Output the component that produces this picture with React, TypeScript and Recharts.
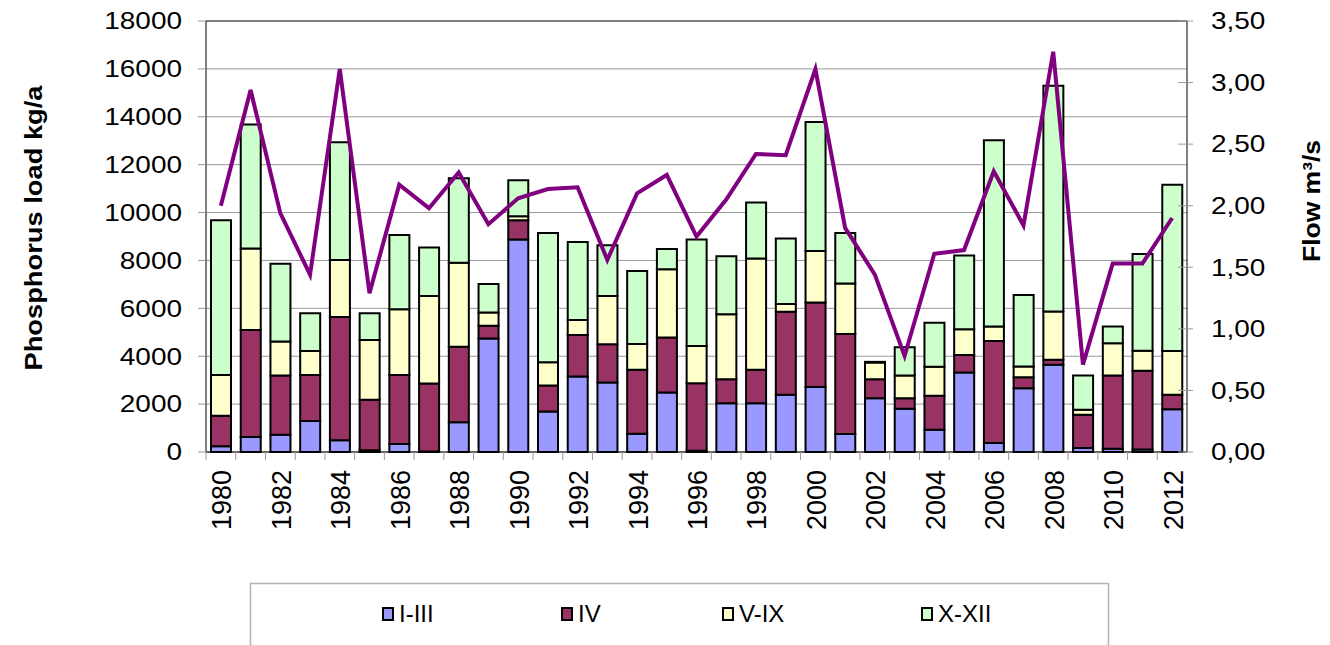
import React from 'react';
import { ComposedChart, Bar, Line, XAxis, YAxis, CartesianGrid, ReferenceLine } from 'recharts';

const years = [1980, 1981, 1982, 1983, 1984, 1985, 1986, 1987, 1988, 1989, 1990, 1991, 1992, 1993, 1994, 1995, 1996, 1997, 1998, 1999, 2000, 2001, 2002, 2003, 2004, 2005, 2006, 2007, 2008, 2009, 2010, 2011, 2012];
const q1 = [240, 625, 720, 1290, 490, 70, 330, 20, 1240, 4740, 8875, 1690, 3150, 2900, 765, 2490, 55, 2040, 2040, 2390, 2710, 750, 2250, 1805, 930, 3320, 375, 2665, 3640, 165, 140, 100, 1790];
const q4 = [1270, 4470, 2470, 1930, 5150, 2110, 2890, 2840, 3160, 530, 806, 1085, 1735, 1600, 2665, 2290, 2820, 1000, 1390, 3470, 3530, 4180, 790, 445, 1415, 735, 4265, 460, 210, 1390, 3055, 3290, 600];
const q5 = [1710, 3400, 1420, 1000, 2375, 2500, 2740, 3650, 3500, 555, 166, 970, 625, 2010, 1085, 2850, 1555, 2710, 4650, 320, 2150, 2110, 695, 945, 1220, 1070, 600, 445, 2015, 210, 1350, 835, 1830];
const q10 = [6460, 5180, 3250, 1570, 4920, 1110, 3100, 2030, 3530, 1195, 1500, 5400, 3265, 2125, 3040, 850, 4445, 2430, 2335, 2735, 5390, 2110, 30, 1180, 1835, 3085, 7780, 2985, 9430, 1430, 695, 4040, 6945];
const flow = [2.0, 2.94, 1.94, 1.44, 3.11, 1.29, 2.17, 1.98, 2.27, 1.85, 2.06, 2.135, 2.15, 1.56, 2.1, 2.25, 1.75, 2.05, 2.42, 2.41, 3.11, 1.82, 1.44, 0.78, 1.61, 1.64, 2.28, 1.84, 3.25, 0.71, 1.53, 1.53, 1.9];

const seriesNames = ['I-III', 'IV', 'V-IX', 'X-XII'];
const seriesKeys = ['q1', 'q4', 'q5', 'q10'];
const seriesColors = ['#9999FF', '#993366', '#FFFFCC', '#CCFFCC'];
const leftTicks = [0, 2000, 4000, 6000, 8000, 10000, 12000, 14000, 16000, 18000];
const rightTicks = [0, 0.5, 1, 1.5, 2, 2.5, 3, 3.5];

const rows = years.map((y, i) => ({ year: y, q1: q1[i], q4: q4[i], q5: q5[i], q10: q10[i], flow: flow[i] }));

const FONT = '"Liberation Sans", Arial, sans-serif';
const PLOT_LEFT = 206;
const PLOT_RIGHT = 1187;
const BAND = (PLOT_RIGHT - PLOT_LEFT) / years.length;

const emWidth = (s: string) => {
  let w = 0;
  for (const c of s) w += c === ',' ? 0.278 : 0.556;
  return w;
};

const LeftTick = (props: any) => {
  const { x, y, payload } = props;
  const label = String(payload.value);
  const fs = 23.3;
  return (
    <g>
      <line x1={x - 8} x2={x} y1={y} y2={y} stroke="#999" />
      <text x={x - 24} y={y + 8.3} textAnchor="end" fontSize={fs} fontFamily={FONT} fill="#000"
        textLength={emWidth(label) * fs * 1.2} lengthAdjust="spacingAndGlyphs">{label}</text>
    </g>
  );
};

const RightTick = (props: any) => {
  const { x, y, payload } = props;
  const label = Number(payload.value).toFixed(2).replace('.', ',');
  const fs = 23.3;
  return (
    <g>
      <line x1={x - 9} x2={x + 6} y1={y} y2={y} stroke="#999" />
      <text x={x + 24} y={y + 8.3} textAnchor="start" fontSize={fs} fontFamily={FONT} fill="#000"
        textLength={emWidth(label) * fs * 1.2} lengthAdjust="spacingAndGlyphs">{label}</text>
    </g>
  );
};

const XTick = (props: any) => {
  const { x, y, payload } = props;
  const yr = Number(payload.value);
  const bx = x - BAND / 2;
  const px = x + 10.5;
  const py = y + 18;
  return (
    <g>
      <line x1={bx} x2={bx} y1={y} y2={y + 8} stroke="#999" />
      {yr % 2 === 0 && (
        <text x={px} y={py} transform={`rotate(-90 ${px} ${py})`} textAnchor="end" fontSize={27} fontFamily={FONT} fill="#000">
          {String(yr)}
        </text>
      )}
    </g>
  );
};

const LeftTitle = () => (
  <text x={42} y={228} transform="rotate(-90 42 228)" textAnchor="middle" fontSize={24} fontWeight="bold" fontFamily={FONT} fill="#000"
    textLength={285} lengthAdjust="spacingAndGlyphs">Phosphorus load kg/a</text>
);

const RightTitle = () => (
  <text x={1320} y={201} transform="rotate(-90 1320 201)" textAnchor="middle" fontSize={24} fontWeight="bold" fontFamily={FONT} fill="#000"
    textLength={122} lengthAdjust="spacingAndGlyphs">Flow m³/s</text>
);

const legendSquareX = [382, 561, 722, 921];

export default function App() {
  return (
    <div style={{ position: 'absolute', left: 0, top: 0, width: 1330, height: 645, overflow: 'hidden', background: '#fff' }}>
      <ComposedChart width={1330} height={645} data={rows} margin={{ top: 21, right: 0, bottom: 73, left: 0 }} barSize={20}>
        <CartesianGrid vertical={false} stroke="#999" />
        <XAxis dataKey="year" interval={0} tick={<XTick />} tickLine={false} tickSize={0} tickMargin={0} axisLine={{ stroke: '#000' }} height={120} />
        <YAxis domain={[0, 18000]} ticks={leftTicks} width={206} tick={<LeftTick />} tickLine={false} tickSize={0} tickMargin={0}
          axisLine={{ stroke: '#000' }} interval={0} label={<LeftTitle />} />
        <YAxis yAxisId="right" orientation="right" domain={[0, 3.5]} ticks={rightTicks} width={143} tick={<RightTick />} tickLine={false}
          tickSize={0} tickMargin={0} axisLine={{ stroke: '#000' }} interval={0} label={<RightTitle />} />
        <ReferenceLine y={18000} stroke="#808080" strokeWidth={2} />
        {seriesKeys.map((k, i) => (
          <Bar key={k} dataKey={k} name={seriesNames[i]} stackId="a" fill={seriesColors[i]} stroke="#000" strokeWidth={2} isAnimationActive={false} />
        ))}
        <Line yAxisId="right" dataKey="flow" type="linear" stroke="#800080" strokeWidth={4} dot={false} activeDot={false} isAnimationActive={false} />
      </ComposedChart>
      <svg style={{ position: 'absolute', left: 0, top: 0 }} width={1330} height={645} pointerEvents="none">
        <path d="M250.5 645 V583.5 H1108.5 V645" fill="none" stroke="#b4b4b4" strokeWidth={1.5} />
        {seriesNames.map((n, i) => (
          <g key={n}>
            <rect x={legendSquareX[i] + 1} y={608} width={10} height={12} fill={seriesColors[i]} stroke="#000" strokeWidth={2} />
            <text x={legendSquareX[i] + 17} y={622} fontSize={24} fontFamily={FONT} fill="#000">{n}</text>
          </g>
        ))}
      </svg>
    </div>
  );
}
